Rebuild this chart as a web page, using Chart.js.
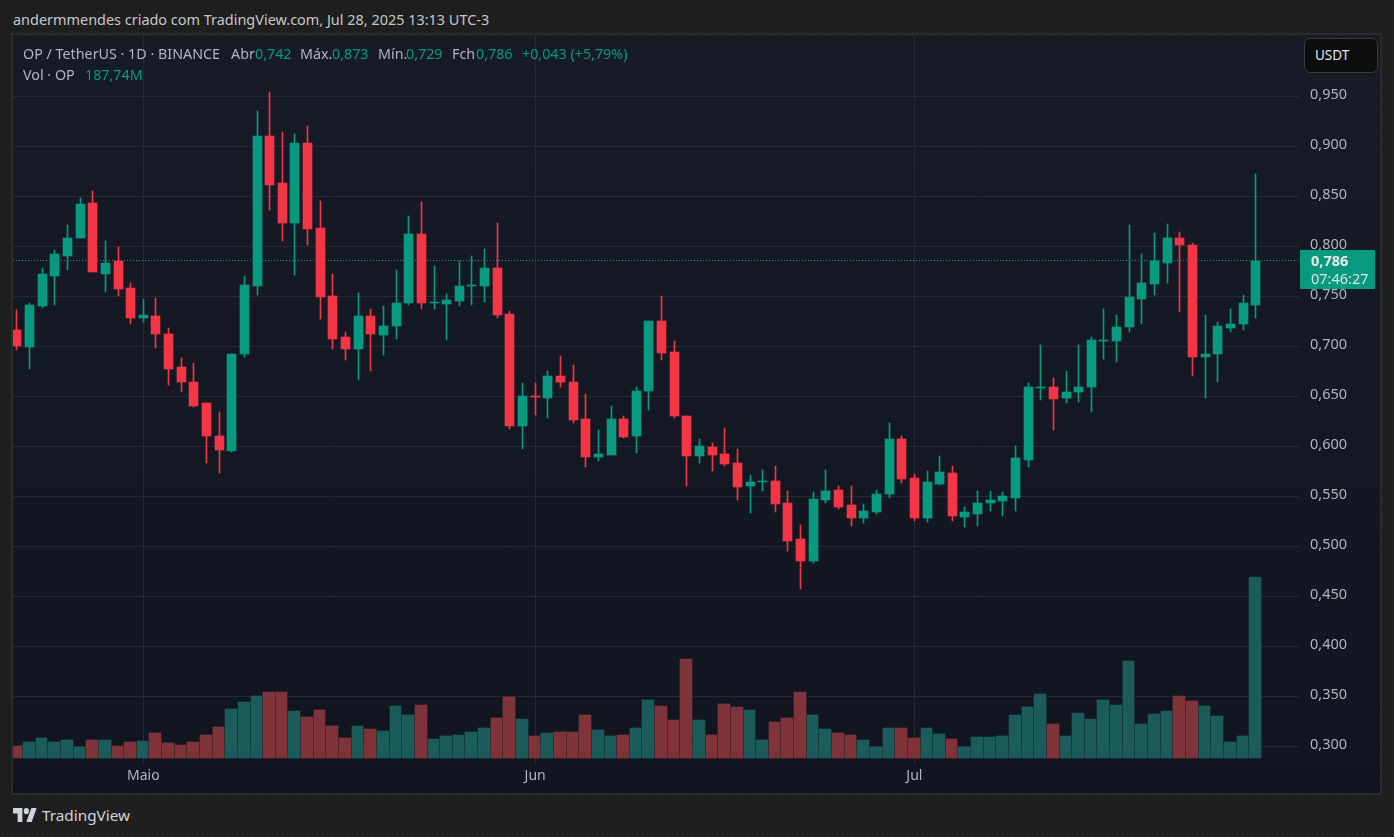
<!DOCTYPE html>
<html>
<head>
<meta charset="utf-8">
<style>
    html, body { margin: 0; padding: 0; }
    body {
        width: 1394px; height: 837px; overflow: hidden; position: relative;
        background-color: #1e1e1e;
        background-image: radial-gradient(rgba(255,255,255,.06) .7px, transparent .8px);
        background-size: 5px 5px;
        font-family: "Noto Sans", sans-serif;
    }
    #panel {
        position: absolute; left: 11px; top: 33px; width: 1367px; height: 758px;
        border: 2px solid #2b2b2b;
        background: linear-gradient(#171b26, #11151f);
    }
    canvas { position: absolute; left: 13px; top: 35px; }
    .t { position: absolute; white-space: nowrap; font-size: 14.3px; line-height: 18px; color: #b2b5be; }
    .g { color: #089981; }
    #tag { position: absolute; left: 1300px; top: 250px; width: 75px; height: 39px; background: #089981; border-radius: 1px; }
    #usdt {
        position: absolute; left: 1304px; top: 38px; width: 72px; height: 33px;
        background: #0c0d0f; border: 1px solid #3a3a3c; border-radius: 6px;
        color: #e4e5e8; font-size: 13.5px; line-height: 33px; text-indent: 10px;
    }
</style>
</head>
<body>
<div id="panel"></div>
<canvas id="grafico" width="1367" height="758"></canvas>

<div class="t" style="left:13px;top:11px;color:#c5c7cc;font-size:14.45px">andermmendes criado com TradingView.com, Jul 28, 2025 13:13 UTC-3</div>
<div class="t" style="left:23px;top:45px">OP / TetherUS · 1D · BINANCE</div>
<div class="t" style="left:231px;top:45px">Abr</div><div class="t g" style="left:255px;top:45px">0,742</div>
<div class="t" style="left:300px;top:45px">Máx.</div><div class="t g" style="left:332px;top:45px">0,873</div>
<div class="t" style="left:378px;top:45px">Mín.</div><div class="t g" style="left:406px;top:45px">0,729</div>
<div class="t" style="left:452px;top:45px">Fch</div><div class="t g" style="left:476px;top:45px">0,786</div>
<div class="t g" style="left:522px;top:45px">+0,043 (+5,79%)</div>
<div class="t" style="left:23px;top:66px">Vol · OP</div><div class="t g" style="left:85px;top:66px">187,74M</div>

<div id="usdt">USDT</div>
<div id="tag"></div>
<div class="t" style="left:1311px;top:251px;color:#e8ece9;font-weight:bold;font-size:14.5px">0,786</div>
<div class="t" style="left:1311px;top:269px;color:#d8e6e1;font-size:14.5px">07:46:27</div>

<svg style="position:absolute;left:13px;top:808px" width="24" height="14" viewBox="0 4 36 18" preserveAspectRatio="none">
    <path fill="#d1d4dc" d="M14 22H7V11H0V4h14v18zM28 22h-8l7.5-18h8L28 22z"/><circle fill="#d1d4dc" cx="20" cy="8" r="4"/>
</svg>
<div class="t" style="left:42px;top:806px;font-size:15.3px;color:#d1d4dc">TradingView</div>

<script src="https://cdn.jsdelivr.net/npm/chart.js"></script>
<script>
    // velas diarias 21 abr - 28 jul 2025
    const aperturas = [.717,.700,.741,.771,.791,.808,.844,.773,.785,.759,.729,.731,.713,.679,.665,.643,.611,.596,.693,.761,.911,.864,.824,.904,.819,.751,.710,.698,.731,.712,.721,.744,.812,.744,.743,.746,.761,.761,.779,.733,.621,.651,.649,.670,.665,.628,.590,.592,.628,.611,.656,.726,.695,.630,.591,.600,.593,.584,.560,.565,.566,.543,.508,.486,.547,.557,.541,.529,.535,.552,.608,.569,.528,.563,.574,.530,.532,.544,.545,.549,.587,.659,.660,.649,.654,.659,.706,.706,.720,.748,.763,.784,.808,.802,.690,.693,.719,.723,.742];
    const cierres = [.701,.742,.773,.793,.808,.843,.774,.783,.758,.729,.732,.713,.678,.665,.641,.611,.597,.693,.762,.911,.862,.824,.904,.818,.750,.708,.698,.731,.713,.721,.744,.813,.744,.745,.747,.761,.762,.779,.732,.621,.651,.650,.670,.665,.627,.590,.593,.628,.610,.656,.726,.694,.630,.591,.601,.592,.583,.559,.565,.566,.542,.506,.486,.548,.556,.540,.529,.536,.553,.608,.568,.528,.565,.575,.531,.534,.544,.547,.550,.589,.659,.660,.648,.655,.659,.707,.707,.720,.750,.764,.785,.808,.801,.690,.693,.721,.723,.744,.786];
    const maximos = [.737,.744,.779,.797,.822,.849,.856,.805,.799,.764,.748,.749,.719,.689,.683,.644,.634,.693,.771,.936,.955,.915,.913,.921,.846,.773,.715,.754,.738,.741,.776,.831,.845,.781,.753,.785,.791,.798,.824,.736,.663,.663,.676,.691,.681,.653,.617,.641,.630,.660,.726,.751,.706,.631,.608,.604,.619,.598,.572,.577,.581,.555,.522,.554,.577,.560,.560,.542,.557,.624,.611,.573,.576,.591,.581,.540,.556,.556,.554,.601,.663,.702,.669,.676,.702,.710,.738,.732,.822,.792,.814,.823,.815,.804,.732,.725,.738,.752,.873];
    const minimos = [.697,.677,.739,.742,.776,.808,.774,.755,.751,.723,.725,.699,.661,.655,.639,.584,.574,.595,.690,.752,.837,.806,.772,.802,.728,.698,.686,.667,.676,.692,.708,.742,.738,.738,.707,.741,.742,.745,.729,.618,.598,.632,.629,.659,.624,.580,.586,.592,.609,.594,.637,.687,.629,.560,.584,.576,.581,.546,.533,.556,.535,.496,.458,.484,.544,.537,.521,.523,.532,.549,.564,.525,.524,.562,.526,.520,.521,.536,.531,.536,.580,.647,.617,.643,.645,.634,.688,.684,.715,.723,.752,.764,.735,.671,.649,.665,.715,.717,.729];
    const volumenes = [12.4,16.6,20.7,16.6,18.7,11.4,18.7,18.7,12.4,16.6,17.6,25.9,15.6,13.5,16.6,23.9,32.1,50.8,58.1,64.3,68.4,68.4,48.7,42.5,49.8,33.2,20.7,33.2,30.1,28,53.9,44.6,55,19.7,22.8,23.9,27,31.1,41.5,63.3,40.4,22.8,25.9,27,27,44.6,29,22.8,23.9,31.1,60.1,53.9,39.4,102.7,39.4,23.9,56,52.9,49.8,18.7,37.3,41.5,68.4,44.6,30.1,25.9,23.9,18.7,11.4,31.1,31.1,20.7,31.1,24.9,19.7,11.4,21.8,21.8,22.8,44.6,52.9,66.4,35.3,22.8,46.7,40.4,60.1,55,100.6,35.3,45.6,48.7,64.3,59.1,53.9,43.6,16.6,22.8,187.74];

    const ultimoPrecio = 0.786;
    const ticksPrecio = [.30,.35,.40,.45,.50,.55,.60,.65,.70,.75,.80,.85,.90,.95];
    const mesIndice = [10, 41, 71];
    const mesNombre = ['Maio', 'Jun', 'Jul'];

    const VERDE = '#089981', ROJO = '#f23645';
    const VERDE_VOL = 'rgba(28,97,95,.94)', ROJO_VOL = 'rgba(134,53,59,.94)';

    const subio = aperturas.map((a, i) => cierres[i] >= a);
    const colores = subio.map(s => s ? VERDE : ROJO);
    const coloresVol = subio.map(s => s ? VERDE_VOL : ROJO_VOL);

    const xMin = -0.31, xMax = 101.43;
    const GRID = 'rgba(42,46,57,.8)';

    // ajusta las barras al pixel para que no queden borrosas
    const ajustePixel = {
        id: 'ajustePixel',
        beforeDatasetsDraw(chart) {
            chart.data.datasets.forEach((ds, n) => {
                if (ds.type === 'line') return;
                const paso = chart.scales.x.getPixelForValue(1) - chart.scales.x.getPixelForValue(0);
                chart.getDatasetMeta(n).data.forEach(el => {
                    if (ds.label === 'Vol') {
                        const l = Math.floor(el.x - 6);
                        const r = Math.floor(el.x - 6 + paso) - 1;
                        el.x = (l + r) / 2;
                        el.width = r - l;
                    } else {
                        el.x = Math.floor(el.x) + 0.5;
                    }
                    el.y = Math.round(el.y);
                    el.base = Math.round(el.base);
                    if (el.y === el.base) el.base += 1;
                });
            });
        }
    };

    new Chart(document.getElementById('grafico'), {
        type: 'bar',
        plugins: [ajustePixel],
        data: {
            datasets: [
                {
                    label: 'Vol',
                    yAxisID: 'yVol',
                    data: volumenes.map((v, i) => ({ x: i, y: v })),
                    backgroundColor: coloresVol,
                    barThickness: 11,
                    order: 4
                },
                {
                    type: 'line',
                    label: 'Ultimo',
                    data: [{ x: xMin, y: ultimoPrecio }, { x: xMax, y: ultimoPrecio }],
                    borderColor: VERDE,
                    borderWidth: 1,
                    borderDash: [1, 2],
                    pointRadius: 0,
                    order: 3
                },
                {
                    label: 'Mecha',
                    data: minimos.map((m, i) => ({ x: i, y: [m, maximos[i]] })),
                    backgroundColor: colores,
                    barThickness: 1,
                    order: 2
                },
                {
                    label: 'Cuerpo',
                    data: aperturas.map((a, i) => ({ x: i, y: [a, cierres[i]] })),
                    backgroundColor: colores,
                    barThickness: 9,
                    order: 1
                }
            ]
        },
        options: {
            responsive: false,
            animation: false,
            devicePixelRatio: 1,
            layout: { padding: 0 },
            datasets: { bar: { grouped: false, borderWidth: 0 } },
            plugins: { legend: { display: false }, tooltip: { enabled: false } },
            scales: {
                x: {
                    type: 'linear',
                    offset: false,
                    min: xMin,
                    max: xMax,
                    afterBuildTicks: s => { s.ticks = mesIndice.map(v => ({ value: v })); },
                    afterFit: s => { s.height = 28; s.paddingLeft = 0; s.paddingRight = 0; },
                    grid: { offset: false, color: GRID, drawTicks: false },
                    border: { display: false },
                    ticks: {
                        autoSkip: false,
                        maxRotation: 0,
                        padding: 3,
                        color: '#b2b5be',
                        font: { family: 'Noto Sans', size: 14 },
                        callback: v => mesNombre[mesIndice.indexOf(v)]
                    }
                },
                y: {
                    position: 'right',
                    min: 0.2815,
                    max: 1.0115,
                    afterBuildTicks: s => { s.ticks = ticksPrecio.map(v => ({ value: v })); },
                    afterFit: s => { s.width = 81; s.paddingTop = 0; s.paddingBottom = 0; },
                    grid: { color: GRID, drawTicks: false },
                    border: { display: false },
                    ticks: {
                        padding: 11,
                        labelOffset: -2,
                        color: '#b2b5be',
                        font: { family: 'Noto Sans', size: 14.5 },
                        callback: v => v.toFixed(3).replace('.', ',')
                    }
                },
                yVol: {
                    display: false,
                    min: -7.26,
                    max: 749.75,
                    afterFit: s => { s.paddingTop = 0; s.paddingBottom = 0; }
                }
            }
        }
    });
</script>
</body>
</html>
